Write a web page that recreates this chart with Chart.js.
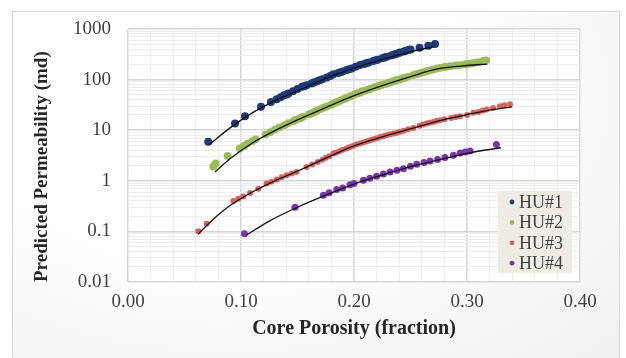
<!DOCTYPE html>
<html><head><meta charset="utf-8">
<script src="https://cdn.jsdelivr.net/npm/chart.js@4"></script>
<style>
html,body{margin:0;padding:0;background:#fff;width:626px;height:358px;overflow:hidden;}
#frame{position:absolute;left:12px;top:11px;width:606px;height:346px;border:1px solid #d9d9d9;background:radial-gradient(ellipse at 35% 25%, #ffffff 45%, #f0f0f0 100%);}
#wrap{position:absolute;left:0;top:0;width:626px;height:358px;}
</style></head><body>
<div id="frame"></div>
<div id="wrap"><canvas id="c" width="626" height="358"></canvas></div>
<script>
// ---- data ----
const seriesLabels = ['HU#1','HU#2','HU#3','HU#4'];
const seriesColors = ['#1f3a78','#9bbb59','#d9625c','#7a35ad'];

const hu1X = [0.071,0.0947,0.1035,0.1177,0.1265,0.1316,0.135,0.138,0.142,0.146,0.150,0.154,0.158,0.1625,0.167,0.172,0.176,0.1817,0.186,0.190,0.1935,0.198,0.2015,0.2053,0.209,0.213,0.217,0.221,0.225,0.229,0.233,0.237,0.2407,0.244,0.248,0.258,0.2658,0.2717,
  0.1405,0.156,0.1645,0.1695,0.179,0.188,0.1955,0.211,0.219,0.227,0.235,0.239,0.246,0.250];
const hu1Y = [5.9,13.6,18.9,29,36,41,45,49,53,59,65,72,77,84,92,102,110,127,135,145,154,165,180,194,203,218,232,248,265,282,300,322,345,360,384,427,468,505,
  51,74,88,97,118,140,160,210,240,273,310,333,372,392];

const hu2X = [0.0755,0.0776,0.0882,0.099,0.103,0.106,0.110,0.113,0.1218,0.126,0.130,0.134,0.1385,0.142,0.1463,0.151,0.155,0.160,0.164,0.168,0.1728,0.177,0.1817,0.186,0.190,0.1935,0.198,0.2015,0.2053,0.209,0.213,0.217,0.221,0.225,0.229,0.233,0.237,0.2407,0.245,0.2525,0.258,0.2643,0.270,0.276,0.281,0.285,0.2938,0.298,0.304,0.310,0.3145,0.317,
  0.148,0.153,0.162,0.166,0.171,0.175,0.180,0.184,0.188,0.192,0.196,0.200,0.2035,0.207,0.211,0.215,0.219,0.223,0.227,0.231,0.235,0.239,0.243,0.248,0.255,0.261,0.267,0.273,0.279,0.290,0.301,0.307];
const hu2Y = [1.9,2.2,3.1,4.35,4.9,5.5,6.1,6.6,8.3,9.2,10.3,11.4,12.6,13.8,15,16.8,18.4,20.5,22.4,25,27.7,30,33.8,37,40.5,43.7,48,52,55.7,60,64,68.9,74,79,84,90,96,102,109,123,133,147,158,171,178,184,194,200,209,222,235,240,
  16,17.5,21.5,23.5,26.5,28.8,32,35.5,38.5,42,46,50,54,58,62,66.5,71.5,76.5,81.5,87,93,99,106,115,128,140,152,165,175,190,204,215];

const hu3X = [0.0622,0.0696,0.0932,0.0976,0.102,0.108,0.1153,0.1227,0.127,0.1316,0.136,0.1404,0.145,0.149,0.158,0.163,0.168,0.172,0.1817,0.187,0.1935,0.199,0.2053,0.211,0.217,0.223,0.229,0.235,0.2407,0.2525,0.258,0.2643,0.270,0.276,0.2938,0.300,0.3056,0.3174,0.323,0.329,0.338,
  0.175,0.178,0.184,0.190,0.196,0.202,0.208,0.214,0.220,0.226,0.232,0.238,0.244,0.248,0.261,0.267,0.273,0.280,0.286,0.290,0.310,0.314,0.333];
const hu3Y = [0.101,0.142,0.398,0.443,0.49,0.575,0.70,0.88,0.96,1.06,1.17,1.29,1.39,1.49,1.87,2.1,2.36,2.6,3.46,3.85,4.35,4.9,5.46,6.0,6.6,7.3,7.96,8.6,9.3,11.1,12.2,13.6,14.6,15.8,18.9,20,22,25.7,27.5,29.9,32.7,
  2.85,3.05,3.6,4.1,4.6,5.2,5.7,6.3,6.95,7.6,8.3,8.95,9.8,10.4,12.9,14.1,15.2,16.5,17.5,18.2,23,24.5,31];

const hu4X = [0.103,0.1478,0.1729,0.178,0.1847,0.190,0.1965,0.200,0.2083,0.214,0.220,0.226,0.2319,0.238,0.2437,0.250,0.2555,0.262,0.2673,0.274,0.2805,0.288,0.294,0.2985,0.3027,0.326];
const hu4Y = [0.09,0.30,0.52,0.58,0.67,0.72,0.84,0.88,1.02,1.12,1.23,1.36,1.49,1.62,1.74,1.93,2.12,2.3,2.47,2.65,2.88,3.2,3.55,3.7,3.9,5.2];

// trend lines
const hu1TrendX = [0.072,0.09,0.11,0.13,0.15,0.175,0.20,0.225,0.25,0.271];
const hu1TrendY = [5.2,11,22,38,60,105,168,252,355,450];
const hu2TrendX = [0.077,0.09,0.11,0.13,0.15,0.175,0.20,0.225,0.25,0.276,0.30,0.318];
const hu2TrendY = [1.5,2.7,5.6,9.8,16,28,48,76,115,166,190,203];
const hu3TrendX = [0.062,0.075,0.09,0.11,0.13,0.15,0.175,0.20,0.225,0.25,0.275,0.30,0.32,0.34];
const hu3TrendY = [0.088,0.17,0.32,0.6,1.0,1.55,2.8,4.9,7.4,10.6,15.3,20.3,25,29];
const hu4TrendX = [0.105,0.125,0.15,0.175,0.20,0.225,0.25,0.275,0.30,0.33];
const hu4TrendY = [0.085,0.16,0.30,0.52,0.86,1.3,1.9,2.6,3.5,4.5];

// axes
const xTickValues = [0.00,0.10,0.20,0.30,0.40];
const xTickLabels = ['0.00','0.10','0.20','0.30','0.40'];
const xMinorStep = 0.02;
const yTickValues = [0.01,0.1,1,10,100,1000];
const yTickLabels = ['0.01','0.1','1','10','100','1000'];
const xTitle = 'Core Porosity (fraction)';
const yTitle = 'Predicted Permeability (md)';

// ---- build ----
const pts = (xs, ys) => xs.map((x,i)=>({x:x, y:ys[i]}));
const scatterX = [hu1X,hu2X,hu3X,hu4X], scatterY=[hu1Y,hu2Y,hu3Y,hu4Y];
const trendX = [hu1TrendX,hu2TrendX,hu3TrendX,hu4TrendX], trendY=[hu1TrendY,hu2TrendY,hu3TrendY,hu4TrendY];
const radii = [4,3.9,3,3.5];

const datasets = [];
for (let i=0;i<4;i++){
  datasets.push({label: seriesLabels[i], data: pts(scatterX[i],scatterY[i]), backgroundColor: seriesColors[i], borderColor: seriesColors[i], pointRadius: radii[i], pointBorderWidth:0, showLine:false, order:2, isSeries:true});
}
for (let i=0;i<4;i++){
  datasets.push({label: seriesLabels[i]+' trend', data: pts(trendX[i],trendY[i]), borderColor:'#111111', borderWidth:1.3, pointRadius:0, showLine:true, tension:0.4, cubicInterpolationMode:'monotone', order:1, isSeries:false});
}

const xGrid = [];
for (let v=0; v<=0.4+1e-9; v+=xMinorStep) xGrid.push(Math.round(v*100)/100);
const yGrid = [];
for (let d=0; d<yTickValues.length-1; d++){ for (let m=1;m<=9;m++) yGrid.push(+(m*yTickValues[d]).toPrecision(3)); }
yGrid.push(yTickValues[yTickValues.length-1]);

const isXMajor = v => xTickValues.some(t=>Math.abs(t-v)<1e-6);
const isYMajor = v => yTickValues.some(t=>Math.abs(t-v)/t<1e-6);

const plotBg = {id:'plotBg', beforeDraw(chart){const a=chart.chartArea,c=chart.ctx;c.save();c.fillStyle='#ffffff';c.fillRect(a.left,a.top,a.right-a.left,a.bottom-a.top);c.restore();}};
const boxLegend = {id:'boxLegend', afterDraw(chart){
  const c=chart.ctx, a=chart.chartArea;
  const bx=a.right-82, by=a.top+162, bw=74, bh=82;
  c.save();
  c.fillStyle='#eeece3'; c.fillRect(bx,by,bw,bh);
  c.font='18px "Liberation Serif", "Times New Roman", serif';
  c.textBaseline='middle'; c.textAlign='left';
  chart.data.datasets.filter(d=>d.isSeries).forEach((d,i)=>{
    const y=by+11+i*20.4;
    c.fillStyle=d.backgroundColor; c.beginPath(); c.arc(bx+14,y,2.4,0,Math.PI*2); c.fill();
    c.fillStyle='#404040'; c.fillText(d.label,bx+21,y+1);
  });
  c.restore();
}};

new Chart(document.getElementById('c'), {
  type:'scatter',
  data:{datasets},
  plugins:[plotBg, boxLegend],
  options:{
    responsive:false, animation:false, devicePixelRatio:1,
    layout:{padding:{left:0,right:46,top:29,bottom:0}},
    plugins:{legend:{display:false}, tooltip:{enabled:false}},
    scales:{
      x:{type:'linear', min:0, max:0.4,
        afterBuildTicks(s){ s.ticks = xGrid.map(v=>({value:v})); },
        afterFit(s){ s.height = 76; },
        ticks:{autoSkip:false, maxRotation:0, padding:9, color:'#404040',
          font:{family:'"Liberation Serif", "Times New Roman", serif', size:19},
          callback:(v)=>{const k=xTickValues.findIndex(t=>Math.abs(t-v)<1e-6); return k>=0?xTickLabels[k]:'';}},
        grid:{drawTicks:false, color:c=>isXMajor(c.tick?c.tick.value:0)?'#d6d6d6':'#ededed', lineWidth:c=>isXMajor(c.tick?c.tick.value:0)?1.5:1},
        border:{display:false},
        title:{display:true, text:xTitle, color:'#262626', padding:{top:0,bottom:17},
          font:{family:'"Liberation Serif", "Times New Roman", serif', size:20, weight:'bold'}}
      },
      y:{type:'logarithmic', min:0.01, max:1000,
        afterBuildTicks(s){ s.ticks = yGrid.map(v=>({value:v})); },
        afterFit(s){ s.width = 128; },
        ticks:{autoSkip:false, padding:17, color:'#404040',
          font:{family:'"Liberation Serif", "Times New Roman", serif', size:19},
          callback:(v)=>{const k=yTickValues.findIndex(t=>Math.abs(t-v)/t<1e-6); return k>=0?yTickLabels[k]:'';}},
        grid:{drawTicks:false, color:c=>isYMajor(c.tick?c.tick.value:1)?'#d6d6d6':'#ededed', lineWidth:c=>isYMajor(c.tick?c.tick.value:1)?1.5:1},
        border:{display:false},
        title:{display:true, text:yTitle, color:'#262626', align:'start', padding:{top:31,bottom:0},
          font:{family:'"Liberation Serif", "Times New Roman", serif', size:19, weight:'bold'}}
      }
    }
  }
});
</script>
</body></html>
